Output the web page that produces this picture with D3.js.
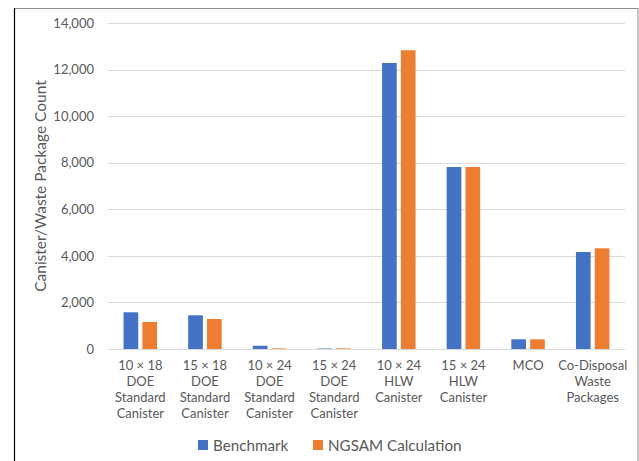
<!DOCTYPE html>
<html>
<head>
<meta charset="utf-8">
<script src="https://cdn.jsdelivr.net/npm/d3@7"></script>
<style>
  html, body { margin: 0; padding: 0; background: #fff; }
  svg { display: block; }
  text { font-family: Lato, "Open Sans", "Liberation Sans", sans-serif; fill: #595959; }
</style>
</head>
<body>
<svg id="chart" width="639" height="461"></svg>
<script>
// Categories (multi-line labels), series values and axis ticks
const categories = [
  ["10 × 18", "DOE", "Standard", "Canister"],
  ["15 × 18", "DOE", "Standard", "Canister"],
  ["10 × 24", "DOE", "Standard", "Canister"],
  ["15 × 24", "DOE", "Standard", "Canister"],
  ["10 × 24", "HLW", "Canister"],
  ["15 × 24", "HLW", "Canister"],
  ["MCO"],
  ["Co-Disposal", "Waste", "Packages"]
];
const seriesNames = ["Benchmark", "NGSAM Calculation"];
const benchmark = [1576, 1447, 140, 20, 12283, 7816, 416, 4166];
const ngsam     = [1160, 1288, 25, 25, 12828, 7816, 416, 4325];
const yTicks = [0, 2000, 4000, 6000, 8000, 10000, 12000, 14000];
const colors = ["#4472C4", "#ED7D31"];

const svg = d3.select("#chart");
const W = 639, H = 461;

// Outer frame
svg.append("rect").attr("x", 14.5).attr("y", 8.5).attr("width", 623.5).attr("height", 470)
  .attr("fill", "none").attr("stroke", "#8c8c8c").attr("stroke-width", 1);
svg.append("line").attr("x1", 14.5).attr("x2", 14.5).attr("y1", 8).attr("y2", H)
  .attr("stroke", "#000").attr("stroke-width", 1.2);

const plot = { left: 108, right: 625, top: 23, bottom: 349 };

const keys = categories.map((c, i) => i);
const x = d3.scaleBand().domain(keys).range([plot.left, plot.right]).paddingInner(0).paddingOuter(0);
const sub = d3.scaleBand().domain([0, 1]).range([0, 33.5]).paddingInner(0.22);
const y = d3.scaleLinear().domain([0, 14000]).range([plot.bottom, plot.top]);

// Gridlines
svg.append("g").selectAll("line").data(yTicks).join("line")
  .attr("x1", plot.left).attr("x2", plot.right)
  .attr("y1", d => Math.round(y(d)) + 0.5).attr("y2", d => Math.round(y(d)) + 0.5)
  .attr("stroke", "#d9d9d9").attr("stroke-width", 1);

// Y axis tick labels
const yAxis = d3.axisLeft(y).tickValues(yTicks).tickSize(0).tickPadding(0)
  .tickFormat(d3.format(","));
const gy = svg.append("g").attr("transform", `translate(94,0)`).call(yAxis);
gy.select(".domain").remove();
gy.selectAll("text").style("font-size", "13px").attr("fill", "#595959")
  .style("font-family", "Lato, 'Open Sans', sans-serif");

// Y axis title
svg.append("text")
  .attr("transform", `translate(46,${(plot.top + plot.bottom) / 2}) rotate(-90)`)
  .attr("text-anchor", "middle")
  .style("font-size", "15.5px")
  .text("Canister/Waste Package Count");

// Bars
const data = [benchmark, ngsam];
const groups = svg.append("g").selectAll("g").data(keys).join("g")
  .attr("transform", d => `translate(${x(d) + (x.bandwidth() - 33.5) / 2},0)`);
groups.selectAll("rect").data(i => data.map((s, j) => ({ j, v: s[i] }))).join("rect")
  .attr("x", d => sub(d.j))
  .attr("width", sub.bandwidth())
  .attr("y", d => y(d.v))
  .attr("height", d => plot.bottom - y(d.v))
  .attr("fill", d => colors[d.j]);

// Baseline
svg.append("line").attr("x1", plot.left).attr("x2", plot.right)
  .attr("y1", plot.bottom + 0.5).attr("y2", plot.bottom + 0.5)
  .attr("stroke", "#d9d9d9").attr("stroke-width", 1);

// Category labels
const xAxis = d3.axisBottom(x).tickSize(0).tickFormat("");
const gx = svg.append("g").attr("transform", `translate(0,${plot.bottom})`).call(xAxis);
gx.select(".domain").remove();
gx.selectAll(".tick").each(function(d) {
  const t = d3.select(this).append("text")
    .attr("text-anchor", "middle")
    .attr("fill", "#595959")
    .style("font-size", "13px")
    .style("font-family", "Lato, 'Open Sans', sans-serif");
  categories[d].forEach((line, k) => {
    t.append("tspan").attr("x", 0).attr("y", 21 + k * 16).text(line);
  });
});

// Legend
const legend = svg.append("g");
const legendItems = [{ x: 198, name: seriesNames[0], c: colors[0] }, { x: 313, name: seriesNames[1], c: colors[1] }];
legendItems.forEach(it => {
  legend.append("rect").attr("x", it.x).attr("y", 440).attr("width", 10).attr("height", 10).attr("fill", it.c);
  legend.append("text").attr("x", it.x + 15).attr("y", 450.5).style("font-size", "15.2px").text(it.name);
});
</script>
</body>
</html>
